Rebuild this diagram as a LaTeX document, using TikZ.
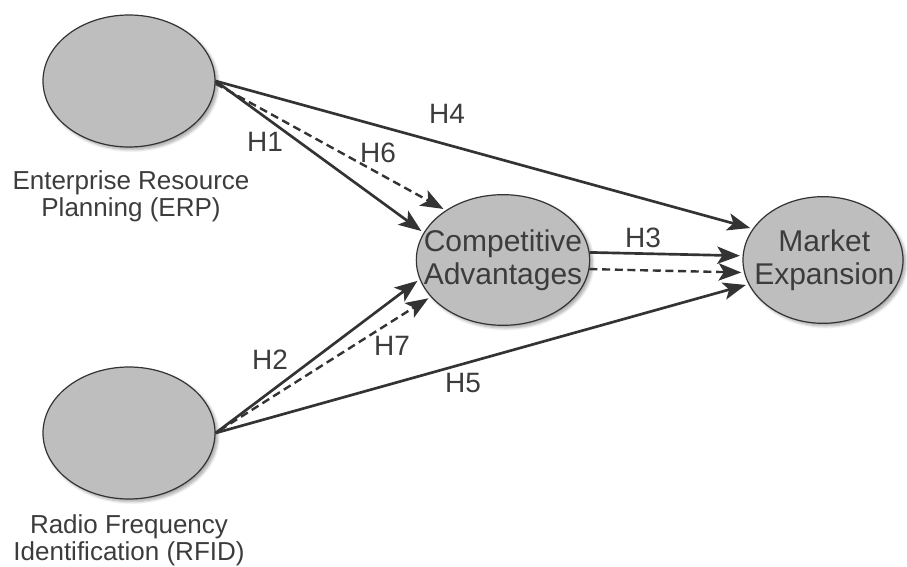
\documentclass[tikz,border=0pt]{standalone}
\usepackage{fontspec}
\setmainfont{Liberation Sans}
\usepackage{tikz}
\usetikzlibrary{arrows.meta, shapes.geometric, shadows.blur}
\definecolor{inkgray}{RGB}{51,51,51}
\definecolor{textgray}{RGB}{60,60,60}
\definecolor{fillgray}{RGB}{190,190,190}
\tikzset{
  >={Stealth[length=17pt,width=13pt,inset=4pt]},
  construct/.style={
    ellipse,
    draw=inkgray, line width=0.9pt,
    fill=fillgray,
    blur shadow={shadow xshift=2pt, shadow yshift=-2pt, shadow blur steps=6, shadow opacity=35},
    inner sep=0pt},
  inside/.style={align=center, text=textgray, inner sep=0pt, font=\fontsize{22.5}{24.5}\selectfont},
  caption/.style={align=center, text=textgray, font=\fontsize{19.5}{20.5}\selectfont},
  hlabel/.style={text=textgray, font=\fontsize{21}{24}\selectfont},
  effect/.style={draw=inkgray, line width=2pt, ->, shorten >=2pt},
  medeffect/.style={effect, dash pattern=on 6pt off 3.5pt, line width=1.8pt},
}
\begin{document}
\begin{tikzpicture}[x=0.75pt,y=-0.75pt]
\useasboundingbox (0,0) rectangle (907,567);
% constructs
\node[construct, minimum width=129pt, minimum height=99pt] (erp)  at (129,81)  {};
\node[construct, minimum width=129pt, minimum height=99pt] (rfid) at (129,433) {};
\node[construct, minimum width=130pt, minimum height=98pt] (ca)   at (503,260) {};
\node[construct, minimum width=120pt, minimum height=95pt] (me)   at (823,260) {};
\node[inside] (catxt) at (ca) {Competitive\\Advantages};
\node[inside] (metxt) at ([xshift=1pt]me) {Market\\Expansion};
\node[caption] (erptxt)  at (131,196) {Enterprise Resource\\Planning (ERP)};
\node[caption] (rfidtxt) at (129,540) {Radio Frequency\\Identification (RFID)};
% effects
\draw[effect]    (erp.east) -- (ca.161);
\draw[medeffect] ([yshift=-2pt]erp.east) -- (ca.139);
\draw[effect]    (erp.east) -- (me.156);
\draw[effect]    (ca.5) -- (me.177);
\draw[medeffect] (ca.-6) -- (me.189);
\draw[effect]    (rfid.east) -- (me.198);
\draw[effect]    (rfid.east) -- (ca.193);
\draw[medeffect] ([xshift=3pt,yshift=2pt]rfid.east) -- (ca.207);
% hypotheses
\node[hlabel] (h1) at (265,142) {H1};
\node[hlabel] (h6) at (378,153) {H6};
\node[hlabel] (h4) at (447,114) {H4};
\node[hlabel] (h3) at (643,238) {H3};
\node[hlabel] (h5) at (463,383) {H5};
\node[hlabel] (h2) at (270,360) {H2};
\node[hlabel] (h7) at (392,346) {H7};
\end{tikzpicture}
\end{document}
